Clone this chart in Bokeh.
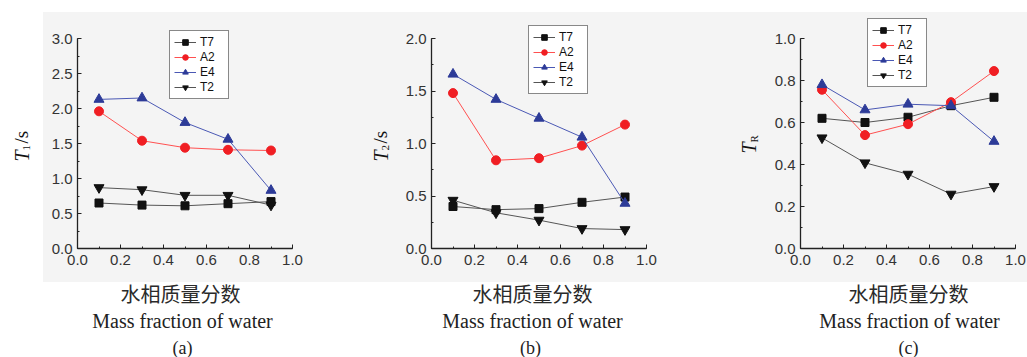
from math import pi
from bokeh.plotting import figure
from bokeh.layouts import row, column
from bokeh.models import (SingleIntervalTicker, PrintfTickFormatter, Label,
                          Legend, Range1d)
from bokeh.embed import file_html
from bokeh.resources import INLINE

# ---------------- data ----------------
water = [0.1, 0.3, 0.5, 0.7, 0.9]
series_names = ["T7", "A2", "E4", "T2"]

t1_T7 = [0.65, 0.62, 0.61, 0.64, 0.67]
t1_A2 = [1.96, 1.54, 1.44, 1.41, 1.40]
t1_E4 = [2.13, 2.15, 1.80, 1.56, 0.83]
t1_T2 = [0.87, 0.84, 0.76, 0.76, 0.62]

t2_T7 = [0.40, 0.37, 0.38, 0.44, 0.49]
t2_A2 = [1.48, 0.84, 0.86, 0.98, 1.18]
t2_E4 = [1.66, 1.42, 1.24, 1.06, 0.43]
t2_T2 = [0.46, 0.34, 0.27, 0.19, 0.18]

tr_T7 = [0.62, 0.60, 0.625, 0.68, 0.72]
tr_A2 = [0.756, 0.54, 0.592, 0.697, 0.845]
tr_E4 = [0.78, 0.66, 0.687, 0.68, 0.51]
tr_T2 = [0.527, 0.408, 0.354, 0.259, 0.295]

x_title_cn = "水相质量分数"
x_title_en = "Mass fraction of water"
panel_tags = ["(a)", "(b)", "(c)"]

# ---------------- styles ----------------
STYLE = {
    "T7": dict(marker="square", size=8, fill="#111111", line="#555555"),
    "A2": dict(marker="circle", size=9, fill="#f01e23", line="#ff5050"),
    "E4": dict(marker="triangle", size=10, fill="#2d3b98", line="#4a58b4"),
    "T2": dict(marker="inverted_triangle", size=10, fill="#111111", line="#555555"),
}

FRAME_W = 215
AXIS_H = 210          # pixel height of the drawn axis span
FRAME_H = 248         # frame is taller so the legend is not clipped
TOP_H = 276           # height of the plot row
TXT_H = 357 - TOP_H


def blank(w, h):
    f = figure(width=w, height=h, x_range=Range1d(0, w), y_range=Range1d(0, h),
               x_axis_location=None, y_axis_location=None,
               output_backend="svg", toolbar_location=None,
               background_fill_color=None, border_fill_color=None,
               outline_line_color=None, min_border=0)
    f.xgrid.visible = False
    f.ygrid.visible = False
    return f


def make_panel(data, ymax, yint, left, right, legend_xy):
    yend = ymax * FRAME_H / AXIS_H
    p = figure(frame_width=FRAME_W, frame_height=FRAME_H,
               min_border_left=left, min_border_right=right,
               min_border_top=0, min_border_bottom=TOP_H - FRAME_H,
               x_range=Range1d(0, 1.0), y_range=Range1d(0, yend),
               output_backend="svg", toolbar_location=None,
               background_fill_color=None, border_fill_color=None,
               outline_line_color=None)
    p.xgrid.visible = False
    p.ygrid.visible = False

    p.xaxis.ticker = SingleIntervalTicker(interval=0.2, num_minor_ticks=2)
    p.yaxis.ticker = SingleIntervalTicker(interval=yint, num_minor_ticks=2)
    p.yaxis.bounds = (0, ymax)
    for ax in (p.xaxis[0], p.yaxis[0]):
        ax.formatter = PrintfTickFormatter(format="%.1f")
        ax.axis_line_color = "#222222"
        ax.axis_line_width = 1.3
        ax.major_tick_line_color = "#222222"
        ax.minor_tick_line_color = "#222222"
        ax.major_tick_in = 4
        ax.major_tick_out = 0
        ax.minor_tick_in = 2
        ax.minor_tick_out = 0
        ax.major_label_text_font = "Liberation Sans"
        ax.major_label_text_font_size = "15px"
        ax.major_label_text_color = "#333333"
    p.xaxis.major_label_standoff = 6
    p.yaxis.major_label_standoff = 5

    items = []
    for name, ys in zip(series_names, data):
        st = STYLE[name]
        r1 = p.line(water, ys, line_color=st["line"], line_width=1)
        r2 = p.scatter(water, ys, marker=st["marker"], size=st["size"],
                       fill_color=st["fill"], line_color=st["fill"])
        items.append((name, [r1, r2]))

    leg = Legend(items=items, location=legend_xy,
                 label_text_font="Liberation Sans", label_text_font_size="12px",
                 label_text_color="#111111",
                 glyph_width=22, glyph_height=14, label_height=14,
                 label_width=24, label_standoff=4, spacing=1, padding=4,
                 margin=0, border_line_color="#111111", border_line_width=1.5,
                 background_fill_color="white", background_fill_alpha=1.0)
    p.add_layout(leg, "center")
    return p


def ylabel_fig(w, cx, ybottom, sub, unit):
    f = blank(w, TOP_H)
    yb = TOP_H - ybottom
    f.add_layout(Label(x=cx, y=yb, x_units="screen", y_units="screen",
                       text="T", angle=pi / 2, text_align="left",
                       text_baseline="middle", text_font="Liberation Serif",
                       text_font_style="italic", text_font_size="20px",
                       text_color="#111111"))
    f.add_layout(Label(x=cx + 5, y=yb + 11, x_units="screen",
                       y_units="screen", text=sub, angle=pi / 2,
                       text_align="left", text_baseline="middle",
                       text_font="Liberation Serif", text_font_size="11px",
                       text_color="#111111"))
    if unit:
        f.add_layout(Label(x=cx, y=yb + 18, x_units="screen",
                           y_units="screen", text=unit, angle=pi / 2,
                           text_align="left", text_baseline="middle",
                           text_font="Liberation Serif", text_font_size="19px",
                           text_color="#111111"))
    return f


def xtitle_fig(w, cx_cn, cx_en, cx_tag, tag):
    f = blank(w, TXT_H)
    f.add_layout(Label(x=cx_cn, y=357 - 293, x_units="screen", y_units="screen",
                       text=x_title_cn, text_align="center",
                       text_baseline="middle", text_font="Noto Sans CJK SC",
                       text_font_size="20px", text_color="#2a2a2a"))
    f.add_layout(Label(x=cx_en, y=357 - 320, x_units="screen", y_units="screen",
                       text=x_title_en, text_align="center",
                       text_baseline="middle", text_font="Liberation Serif",
                       text_font_size="20px", text_color="#222222"))
    f.add_layout(Label(x=cx_tag, y=357 - 347, x_units="screen", y_units="screen",
                       text=tag, text_align="center", text_baseline="middle",
                       text_font="Liberation Serif", text_font_size="18px",
                       text_color="#222222"))
    return f


pa = make_panel([t1_T7, t1_A2, t1_E4, t1_T2], 3.0, 0.5, 32, 53, (92, 149))
pb = make_panel([t2_T7, t2_A2, t2_E4, t2_T2], 2.0, 0.5, 36, 44, (97, 154))
pc = make_panel([tr_T7, tr_A2, tr_E4, tr_T2], 1.0, 0.2, 35, 12, (67, 161))

ya = ylabel_fig(45, 21, 189, "1", "/s")
yb = ylabel_fig(50, 35, 189, "2", "/s")
yc = ylabel_fig(75, 58, 181, "R", "")

xa = xtitle_fig(345, 180, 182, 182, panel_tags[0])
xb = xtitle_fig(345, 187, 187, 185, panel_tags[1])
xc = xtitle_fig(337, 218, 219, 218, panel_tags[2])

top = row(ya, pa, yb, pb, yc, pc, spacing=0)
bottom = row(xa, xb, xc, spacing=0)
layout = column(top, bottom, spacing=0,
                styles={"background-color": "white",
                        "background-image": "linear-gradient(#f4f4f4, #f4f4f4)",
                        "background-position": "43px 12px",
                        "background-size": "984px 270px",
                        "background-repeat": "no-repeat"})

open("out.html", "w").write(file_html(layout, INLINE))
